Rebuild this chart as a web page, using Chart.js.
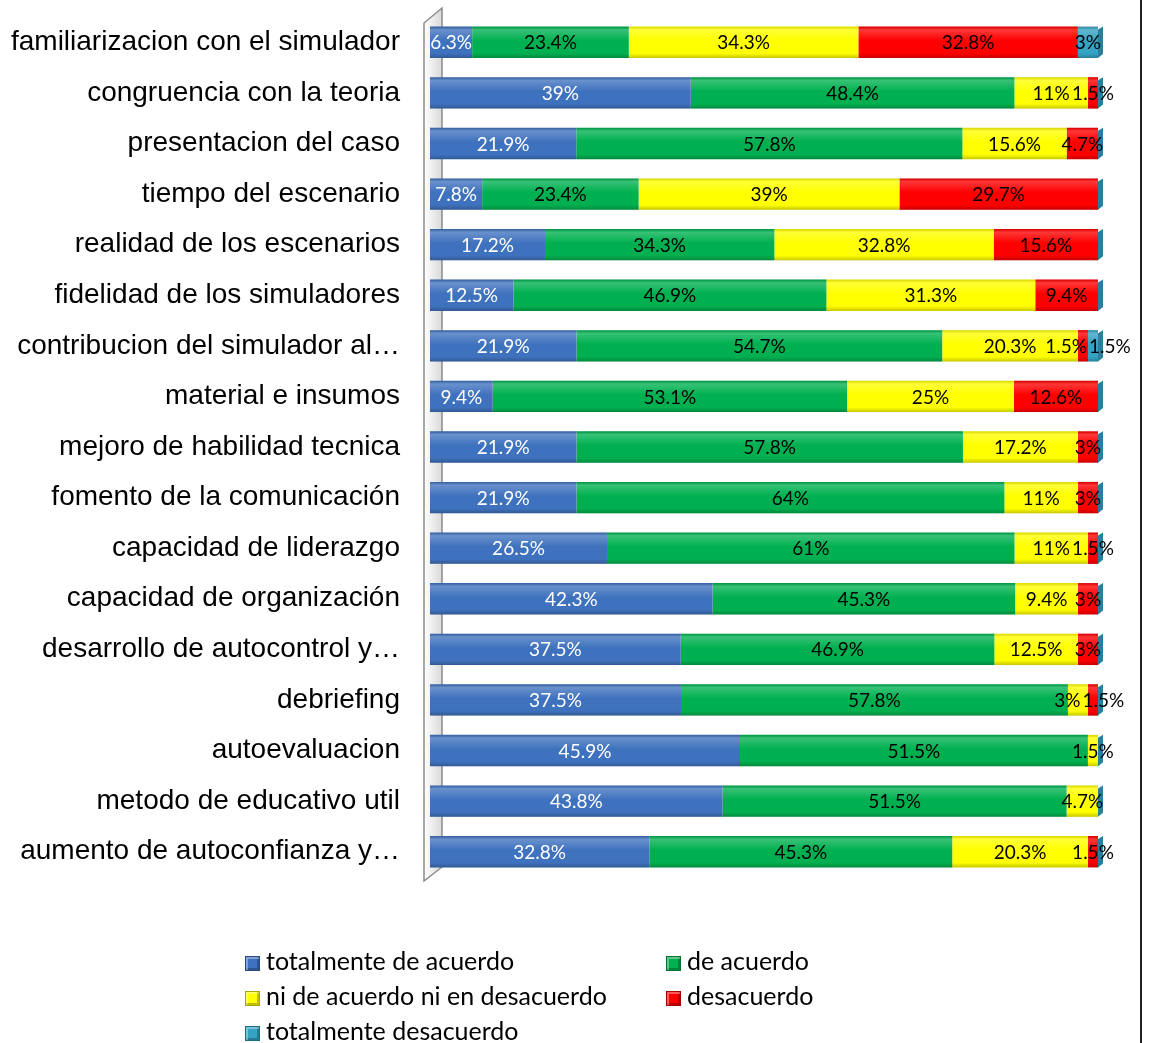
<!DOCTYPE html>
<html>
<head>
<meta charset="utf-8">
<script src="https://cdn.jsdelivr.net/npm/chart.js@4.4.1/dist/chart.umd.min.js"></script>
<style>
  html, body { margin: 0; padding: 0; background: #fff; }
  #wrap { position: relative; width: 1150px; height: 1043px; overflow: hidden; }
  #c { position: absolute; left: 0; top: 0; }
  #rborder { position: absolute; left: 1140px; top: 0; width: 2px; height: 1043px; background: #222; }
  #legend { position: absolute; left: 0; top: 0; font-family: Lato, "Open Sans", sans-serif; font-size: 25px; color: #000; }
  .li { position: absolute; white-space: nowrap; line-height: 28px; }
  .sw { display: inline-block; width: 13px; height: 13px; margin-right: 6px; vertical-align: -1px; border: 1px solid rgba(0,0,0,0.35); box-shadow: inset 2px 2px 0 rgba(255,255,255,0.35), inset -2px -2px 0 rgba(0,0,0,0.25); }
</style>
</head>
<body>
<div id="wrap">
  <canvas id="c" width="1150" height="1043"></canvas>
  <div id="rborder"></div>
  <div id="legend"></div>
</div>
<script>
const categories = [
  "familiarizacion con el simulador",
  "congruencia con la teoria",
  "presentacion del caso",
  "tiempo del escenario",
  "realidad de los escenarios",
  "fidelidad de los simuladores",
  "contribucion del simulador al…",
  "material e insumos",
  "mejoro de habilidad tecnica",
  "fomento de la comunicación",
  "capacidad de liderazgo",
  "capacidad de organización",
  "desarrollo de autocontrol y…",
  "debriefing",
  "autoevaluacion",
  "metodo de educativo util",
  "aumento de autoconfianza y…"
];
const seriesNames = [
  "totalmente de acuerdo",
  "de acuerdo",
  "ni de acuerdo ni en desacuerdo",
  "desacuerdo",
  "totalmente desacuerdo"
];
const totalmenteDeAcuerdo = [6.3, 39, 21.9, 7.8, 17.2, 12.5, 21.9, 9.4, 21.9, 21.9, 26.5, 42.3, 37.5, 37.5, 45.9, 43.8, 32.8];
const deAcuerdo           = [23.4, 48.4, 57.8, 23.4, 34.3, 46.9, 54.7, 53.1, 57.8, 64, 61, 45.3, 46.9, 57.8, 51.5, 51.5, 45.3];
const niDeAcuerdo         = [34.3, 11, 15.6, 39, 32.8, 31.3, 20.3, 25, 17.2, 11, 11, 9.4, 12.5, 3, 1.5, 4.7, 20.3];
const desacuerdo          = [32.8, 1.5, 4.7, 29.7, 15.6, 9.4, 1.5, 12.6, 3, 3, 1.5, 3, 3, 1.5, 0, 0, 1.5];
const totalmenteDesacuerdo= [3, 0, 0, 0, 0, 0, 1.5, 0, 0, 0, 0, 0, 0, 0, 0, 0, 0];

const rawSeries = [totalmenteDeAcuerdo, deAcuerdo, niDeAcuerdo, desacuerdo, totalmenteDesacuerdo];
const colors = ["#3F72BE", "#00B050", "#FFFF00", "#FF0000", "#35A3C3"];
const labelColors = ["#FFFFFF", "#000000", "#000000", "#000000", "#000000"];

// 100% stacked: normalise each row
const rowSums = categories.map((_, i) => rawSeries.reduce((s, arr) => s + arr[i], 0));
const datasets = rawSeries.map((arr, k) => ({
  label: seriesNames[k],
  data: arr.map((v, i) => v / rowSums[i] * 100),
  raw: arr,
  backgroundColor: colors[k],
  borderWidth: 0,
  categoryPercentage: 1.0,
  barPercentage: 0.62
}));

const wallPlugin = {
  id: 'wall',
  beforeDatasetsDraw(chart) {
    const ctx = chart.ctx;
    ctx.save();
    const g = ctx.createLinearGradient(424, 0, 442, 0);
    g.addColorStop(0, '#ffffff');
    g.addColorStop(1, '#d9d9d9');
    ctx.beginPath();
    ctx.moveTo(424, 23);
    ctx.lineTo(442, 8);
    ctx.lineTo(442, 867);
    ctx.lineTo(424, 881);
    ctx.closePath();
    ctx.fillStyle = g;
    ctx.fill();
    ctx.strokeStyle = '#8c8c8c';
    ctx.lineWidth = 1.5;
    ctx.stroke();
    ctx.restore();
  }
};

const shadePlugin = {
  id: 'shade',
  afterDatasetsDraw(chart) {
    const ctx = chart.ctx;
    ctx.save();
    const n = chart.data.datasets.length;
    for (let d = 0; d < n; d++) {
      const meta = chart.getDatasetMeta(d);
      meta.data.forEach((el) => {
        const w = el.x - el.base;
        if (w <= 0.01) return;
        const top = el.y - el.height / 2, h = el.height;
        const g = ctx.createLinearGradient(0, top, 0, top + h);
        g.addColorStop(0, 'rgba(0,0,0,0.14)');
        g.addColorStop(0.1, 'rgba(255,255,255,0.22)');
        g.addColorStop(0.45, 'rgba(255,255,255,0.0)');
        g.addColorStop(0.85, 'rgba(0,0,0,0.0)');
        g.addColorStop(1, 'rgba(0,0,0,0.22)');
        ctx.fillStyle = g;
        ctx.fillRect(el.base, top, w, h);
      });
    }
    // right end caps
    const last = chart.getDatasetMeta(n - 1);
    last.data.forEach((el) => {
      const top = el.y - el.height / 2, h = el.height;
      ctx.beginPath();
      ctx.moveTo(el.x, top + 3);
      ctx.lineTo(el.x + 5, top);
      ctx.lineTo(el.x + 5, top + h - 4);
      ctx.lineTo(el.x, top + h);
      ctx.closePath();
      ctx.fillStyle = '#2B7F9A';
      ctx.fill();
    });
    ctx.restore();
  }
};

const labelPlugin = {
  id: 'vlabels',
  afterDatasetsDraw(chart) {
    const ctx = chart.ctx;
    ctx.save();
    ctx.font = '19px Lato, "Open Sans", sans-serif';
    ctx.textAlign = 'center';
    ctx.textBaseline = 'middle';
    const nRows = chart.data.labels.length;
    for (let i = 0; i < nRows; i++) {
      // collect labels in this row
      const items = [];
      chart.data.datasets.forEach((ds, d) => {
        const v = ds.raw[i];
        if (!v) return;
        const el = chart.getDatasetMeta(d).data[i];
        const text = v + '%';
        items.push({ text, d, y: el.y, x: (el.x + el.base) / 2, w: ctx.measureText(text).width });
      });
      // simple overlap avoidance: push neighbours apart
      for (let it = 0; it < 20; it++) {
        let moved = false;
        for (let k = 0; k < items.length - 1; k++) {
          const a = items[k], b = items[k + 1];
          const need = (a.w + b.w) / 2 + 2;
          const dist = b.x - a.x;
          if (dist < need) {
            const s = (need - dist) / 2;
            a.x -= s; b.x += s; moved = true;
          }
        }
        if (!moved) break;
      }
      items.forEach(o => {
        ctx.fillStyle = labelColors[o.d];
        ctx.fillText(o.text, o.x, o.y + 1);
      });
    }
    ctx.restore();
  }
};

new Chart(document.getElementById('c'), {
  type: 'bar',
  data: { labels: categories, datasets },
  options: {
    indexAxis: 'y',
    responsive: false,
    animation: false,
    events: [],
    layout: { padding: { top: 17, bottom: 166, right: 52, left: 0 } },
    plugins: { legend: { display: false }, tooltip: { enabled: false } },
    scales: {
      x: { stacked: true, min: 0, max: 100, display: false },
      y: {
        stacked: true,
        grid: { display: false, drawTicks: false },
        border: { display: false },
        ticks: {
          padding: 30,
          color: '#000',
          font: { family: '"Liberation Sans", Arial, sans-serif', size: 28 }
        },
        afterFit(scale) {
          scale.width = 430;
          scale.paddingTop = 0;
          scale.paddingBottom = 0;
        }
      }
    }
  },
  plugins: [wallPlugin, shadePlugin, labelPlugin]
});

// legend
const legendPos = [[245, 946], [666, 946], [245, 981], [666, 981], [245, 1016]];
const lg = document.getElementById('legend');
seriesNames.forEach((name, k) => {
  const div = document.createElement('div');
  div.className = 'li';
  div.style.left = legendPos[k][0] + 'px';
  div.style.top = legendPos[k][1] + 'px';
  const sw = document.createElement('span');
  sw.className = 'sw';
  sw.style.background = colors[k];
  div.appendChild(sw);
  div.appendChild(document.createTextNode(name));
  lg.appendChild(div);
});
</script>
</body>
</html>
